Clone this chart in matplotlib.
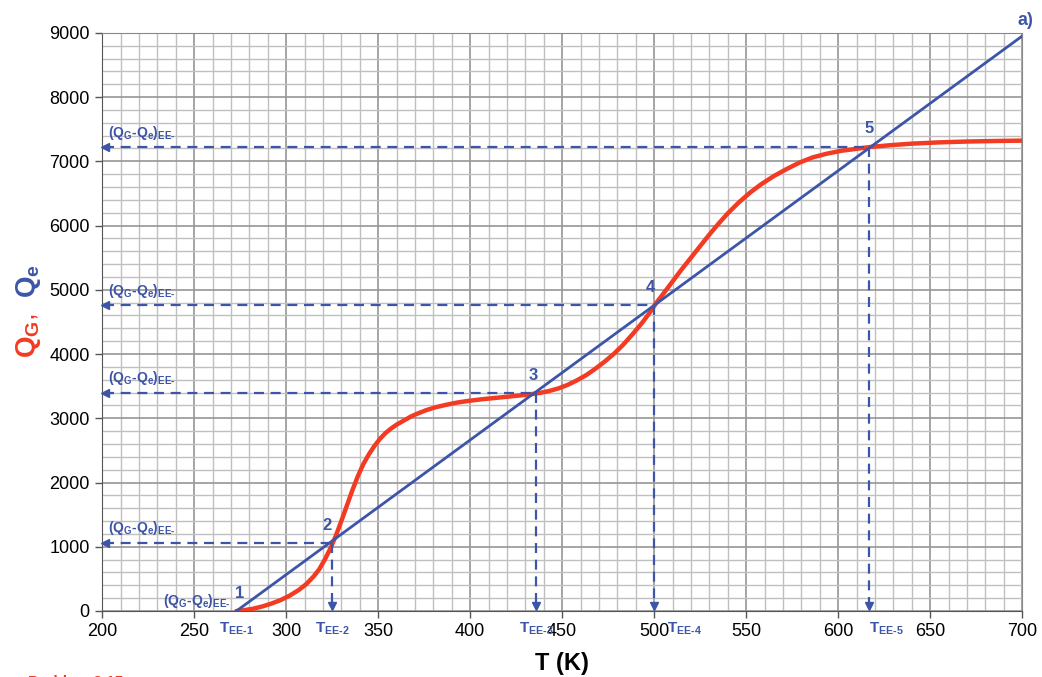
import matplotlib.pyplot as plt
import numpy as np

plt.rcParams['font.family'] = ['Liberation Sans', 'DejaVu Sans']
plt.rcParams['mathtext.fontset'] = 'custom'
# every math label in this chart is bold
plt.rcParams['mathtext.rm'] = 'Liberation Sans:bold'
plt.rcParams['mathtext.bf'] = 'Liberation Sans:bold'
plt.rcParams['mathtext.it'] = 'Liberation Sans:bold:italic'

RED = '#f23b22'
BLUE = '#3d55a8'

# heat generated Q_G
t_gen = [273, 277, 282, 287, 292, 297, 302, 307, 311, 315, 318, 321, 324, 327, 330, 333, 336,
         339, 342, 345, 348, 351, 354, 357, 360, 364, 368, 372, 376, 381, 387, 393, 399,
         406, 413, 420, 427, 433, 438, 443, 448, 453, 458, 463, 468, 473, 478, 483, 488,
         493, 497, 501, 505, 510, 515, 520, 525, 530, 535, 540, 546, 552, 558, 565,
         572, 579, 586, 594, 602, 610, 618, 628, 640, 655, 670, 685, 700]
q_gen = [0, 12, 35, 70, 115, 170, 240, 330, 420, 540, 650, 800, 970, 1170, 1400, 1640, 1880,
         2100, 2290, 2440, 2570, 2680, 2770, 2840, 2900, 2965, 3030, 3080, 3125, 3170, 3210, 3245, 3270,
         3295, 3315, 3335, 3355, 3375, 3395, 3425, 3465, 3520, 3590, 3670, 3770, 3880, 4000, 4140, 4300,
         4470, 4620, 4790, 4940, 5130, 5320, 5500, 5680, 5860, 6030, 6190, 6360, 6510, 6640, 6770,
         6880, 6980, 7060, 7120, 7165, 7195, 7225, 7250, 7275, 7295, 7308, 7316, 7322]

# heat removed Q_e (straight line)
t_rem = [273, 700]
q_rem = [0, 8950]

# steady states 2..5
t_ss = [325, 436, 500, 617]
q_ss = [1060, 3400, 4760, 7220]

fig = plt.figure(figsize=(10.42, 6.77), dpi=100)
ax = fig.add_axes([0.098, 0.0975, 0.883, 0.854])

ax.set_xlim(200, 700)
ax.set_ylim(0, 9000)
ax.set_xticks(np.arange(200, 701, 50))
ax.set_yticks(np.arange(0, 9001, 1000))
ax.set_xticks(np.arange(200, 701, 10), minor=True)
ax.set_yticks(np.arange(0, 9001, 200), minor=True)
ax.grid(which='minor', color='#c0c0c0', linewidth=1.0)
ax.grid(which='major', color='#969696', linewidth=1.2)
ax.set_axisbelow(True)
ax.tick_params(which='minor', length=0)
ax.tick_params(which='major', length=5, width=1, color='#555555', labelsize=13, pad=4)
for s in ['left', 'bottom']:
    ax.spines[s].set_color('#555555')
for s in ['top', 'right']:
    ax.spines[s].set_color('#888888')

ax.plot(t_gen, q_gen, color=RED, lw=3.2, solid_capstyle='round', solid_joinstyle='round', zorder=4)
ax.plot(t_rem, q_rem, color=BLUE, lw=2.0, zorder=5)

# dashed guides with arrow heads
for t, q in zip(t_ss, q_ss):
    ax.plot([200.8, t], [q, q], color=BLUE, lw=1.6, ls=(0, (4.5, 3)), zorder=6)
    ax.plot([t, t], [q, 60], color=BLUE, lw=1.6, ls=(0, (4.5, 3)), zorder=6)
    ax.plot([201.5], [q], marker='<', color=BLUE, ms=6, zorder=7, clip_on=False)
    ax.plot([t], [80], marker='v', color=BLUE, ms=6, zorder=7, clip_on=False)

lab = r'$\mathbf{(Q_G\text{-}Q_e)_{EE\text{-}}}$'
for q in q_ss:
    ax.annotate(lab, xy=(200, q), xytext=(4, 4), textcoords='offset points',
                color=BLUE, fontsize=10, va='bottom', ha='left')
ax.annotate(lab, xy=(273, 0), xytext=(-4, 1), textcoords='offset points',
            color=BLUE, fontsize=10, va='bottom', ha='right')

# numbered states
pt_t = [273] + t_ss
pt_q = [0] + q_ss
pt_off = [(2, 7), (-4, 7), (-2, 7), (-3, 7), (0, 8)]
for i, (t, q, off) in enumerate(zip(pt_t, pt_q, pt_off)):
    ax.annotate(str(i + 1), xy=(t, q), xytext=off, textcoords='offset points',
                color=BLUE, fontsize=12, fontweight='bold', ha='center', va='bottom')

# T_EE labels under the axis
tee_off = [0, 0, 0, 22, 12]
for i, (t, dx) in enumerate(zip(pt_t, tee_off)):
    ax.annotate(r'$\mathbf{T_{EE\text{-}%d}}$' % (i + 1), xy=(t, 0), xytext=(dx, -7),
                textcoords='offset points', color=BLUE, fontsize=11,
                ha='center', va='top', annotation_clip=False)

ax.set_xlabel('T (K)', fontsize=17, fontweight='bold', labelpad=8)

fig.text(0.027, 0.505, r'$\mathbf{Q_G}$,', color=RED, fontsize=20, rotation=90,
         ha='center', va='center')
fig.text(0.027, 0.585, r'$\mathbf{Q_e}$', color=BLUE, fontsize=20, rotation=90,
         ha='center', va='center')

fig.text(0.992, 0.97, 'a)', color=BLUE, fontsize=13, fontweight='bold', ha='right', va='center')
fig.text(0.027, 0.003, 'Problem 2.15', color=RED, fontsize=11, fontweight='bold',
         ha='left', va='top')

fig.savefig('out.png', dpi=100)
